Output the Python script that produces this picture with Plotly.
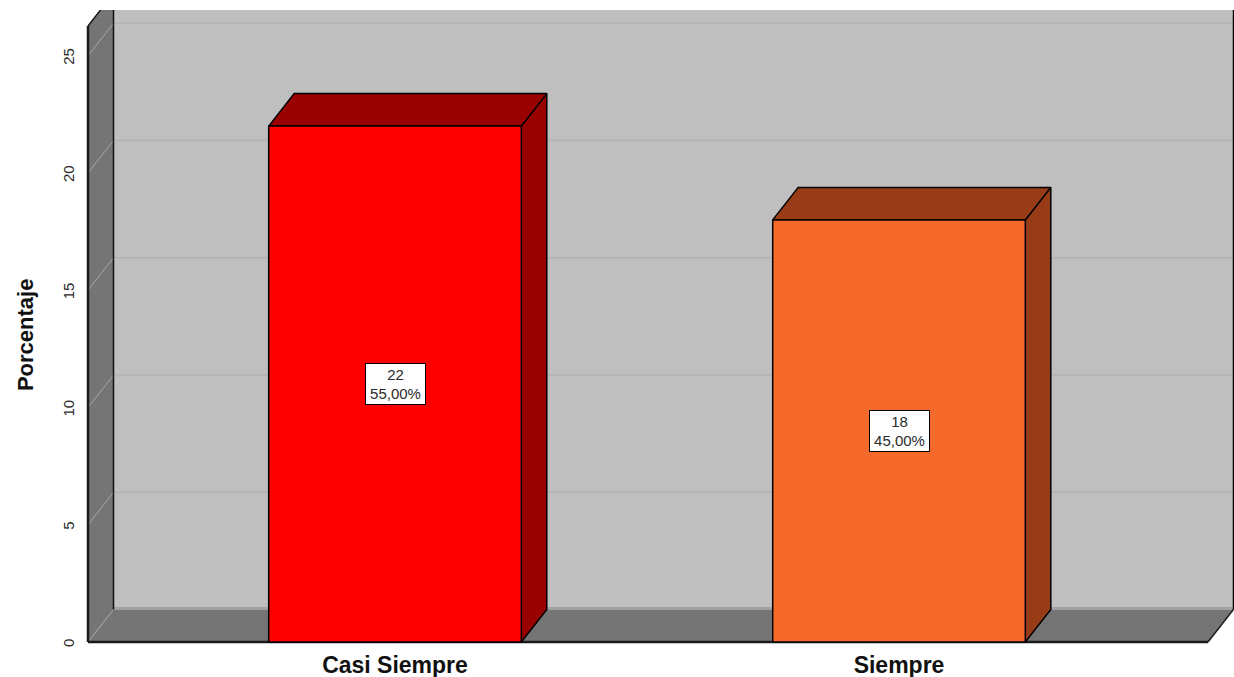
import plotly.graph_objects as go

categories = ["Casi Siempre", "Siempre"]
counts = [22, 18]
percents = ["55,00%", "45,00%"]
y_ticks = [0, 5, 10, 15, 20, 25]
front_colors = ["#ff0000", "#f5692b"]
side_colors = ["#990000", "#983c18"]

WALL = "#757575"
BACK = "#bfbfbf"
FONT = "Liberation Sans"

PX_X = 504.0
PX_Y = 23.45
DX = 25.5 / PX_X
DY = 32.5 / PX_Y
HALF = 126.3 / PX_X
X0 = (88 - 395) / PX_X
X1 = (1208 - 395) / PX_X
XMIN = (85 - 395) / PX_X
XMAX = (1234 - 395) / PX_X
YMIN = -3 / PX_Y
YMAX = 632 / PX_Y
YTOP = 26.27


def poly(xs, ys, fill=None, line=None, width=1.0):
    closed = fill is not None
    return go.Scatter(
        x=xs + xs[:1] if closed else xs,
        y=ys + ys[:1] if closed else ys,
        mode="lines",
        fill="toself" if closed else None,
        fillcolor=fill,
        line=dict(color=line or "rgba(0,0,0,0)", width=width),
        hoverinfo="skip",
        showlegend=False,
    )


fig = go.Figure()

# Back wall, left wall, floor
fig.add_trace(poly([X0 + DX, X1 + DX, X1 + DX, X0 + DX], [DY, DY, YTOP + DY, YTOP + DY], fill=BACK))
fig.add_trace(poly([X0, X0 + DX, X0 + DX, X0], [0, DY, YTOP + DY, YTOP], fill=WALL))
fig.add_trace(poly([X0, X1, X1 + DX, X0 + DX], [0, 0, DY, DY], fill=WALL))

# Gridlines
for t in y_ticks[1:]:
    fig.add_trace(poly([X0 + DX, X1 + DX], [t + DY, t + DY], line="#b3b3b3", width=1.5))
for t in y_ticks:
    fig.add_trace(poly([X0, X0 + DX], [t, t + DY], line="#a6a6a6", width=1))
fig.add_trace(poly([X0 + DX, X1 + DX], [DY + 0.04, DY + 0.04], line="#a2a2a2", width=3))

# Frame edges
fig.add_trace(poly([X0, X0], [0, YTOP], line="#1a1a1a", width=2.5))
fig.add_trace(poly([X0, X0 + DX], [YTOP, YTOP + DY], line="#1a1a1a", width=1.5))
fig.add_trace(poly([X0 + DX, X0 + DX], [DY, YTOP + DY], line="#111111", width=1.5))
fig.add_trace(poly([X0, X1], [0, 0], line="#1a1a1a", width=2.5))
fig.add_trace(poly([X1, X1 + DX], [0, DY], line="#1a1a1a", width=1.5))
fig.add_trace(poly([X1 + DX, X1 + DX], [DY, YTOP + DY], line="#000000", width=1.5))

# Bars
for i, v in enumerate(counts):
    l, r = i - HALF, i + HALF
    fig.add_trace(poly([r, r + DX, r + DX, r], [0, DY, v + DY, v], fill=side_colors[i], line="#000000", width=1.5))
    fig.add_trace(poly([l, r, r + DX, l + DX], [v, v, v + DY, v + DY], fill=side_colors[i], line="#000000", width=1.5))
    fig.add_trace(poly([l, r, r, l], [0, 0, v, v], fill=front_colors[i], line="#000000", width=1.5))

annotations = [
    dict(
        x=i, y=v / 2, xref="x", yref="y",
        text=f"{v}<br>{percents[i]}",
        showarrow=False,
        width=59, height=40,
        bgcolor="#ffffff", bordercolor="#000000", borderwidth=1, borderpad=0,
        font=dict(family=FONT, size=15, color="#2a2a2a"),
        align="center",
    )
    for i, v in enumerate(counts)
]
annotations.append(dict(
    text="<b>Porcentaje</b>", x=0, y=0.488, xref="paper", yref="paper",
    xanchor="center", xshift=-60, textangle=-90, showarrow=False,
    font=dict(family=FONT, size=22, color="#111111"),
))

fig.update_layout(
    width=1234, height=677,
    autosize=False,
    margin=dict(l=85, r=0, t=10, b=32),
    paper_bgcolor="#ffffff",
    plot_bgcolor="#ffffff",
    showlegend=False,
    annotations=annotations,
    xaxis=dict(
        range=[XMIN, XMAX],
        tickmode="array",
        tickvals=list(range(len(categories))),
        ticktext=[f"<b>{c}</b>" for c in categories],
        tickfont=dict(family=FONT, size=23, color="#111111"),
        showgrid=False, zeroline=False, showline=False, ticks="",
        ticklabelstandoff=4,
        fixedrange=True,
    ),
    yaxis=dict(
        range=[YMIN, YMAX],
        tickmode="array",
        tickvals=y_ticks,
        ticktext=[str(t) for t in y_ticks],
        tickangle=-90,
        tickfont=dict(family=FONT, size=15, color="#2a2a2a"),
        showgrid=False, zeroline=False, showline=False, ticks="",
        ticklabelstandoff=7,
        ticklabelshift=3,
        fixedrange=True,
    ),
)

fig.write_html(
    "out.html",
    config={"displayModeBar": False},
    post_script="document.body.style.margin='0';document.body.style.overflow='hidden';",
)
